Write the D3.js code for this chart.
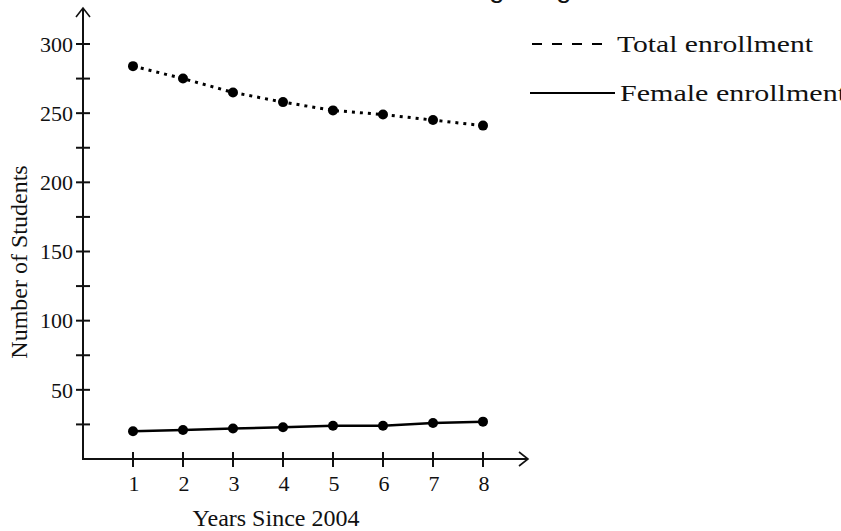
<!DOCTYPE html>
<html><head><meta charset="utf-8">
<script src="https://cdn.jsdelivr.net/npm/d3@7"></script>
<style>body{margin:0;background:#fff}svg{display:block}text{font-family:"Liberation Serif","Times New Roman",serif;fill:#111}</style>
</head><body>
<svg id="c" width="841" height="531"></svg>
<script>
const years = [1,2,3,4,5,6,7,8];
const totalEnrollment = [284,275,265,258,252,249,245,241];
const femaleEnrollment = [20,21,22,23,24,24,26,27];
const yTickLabels = [50,100,150,200,250,300];
const xTickLabels = [1,2,3,4,5,6,7,8];
const seriesNames = ["Total enrollment","Female enrollment"];
const titleText = "Nursing Program Enrollment";
const xTitle = "Years Since 2004";
const yTitle = "Number of Students";

const svg = d3.select("#c");
const x = d3.scaleLinear().domain([0,8.9]).range([83,528]);
const y = d3.scaleLinear().domain([0,300]).range([459,44]);
const ax = "#111";

// title (cut off at the top, as in the reference)
const tf = "'Liberation Sans',Arial,sans-serif";
const t = svg.append("text").attr("y",-3).style("font-size","28px").style("font-family",tf).text(titleText);
const tmp = svg.append("text").style("font-size","28px").style("font-family",tf).text("Nursin");
const pre = tmp.node().getComputedTextLength(); tmp.remove();
t.attr("x", 489 - pre);

// y axis
svg.append("line").attr("x1",x(0)).attr("x2",x(0)).attr("y1",y(0)+1).attr("y2",9).attr("stroke",ax).attr("stroke-width",2);
svg.append("path").attr("d",`M${x(0)-7},${17} L${x(0)},${8} L${x(0)+7},${17}`).attr("fill","none").attr("stroke",ax).attr("stroke-width",1.6);
// x axis
svg.append("line").attr("x1",x(0)-1).attr("x2",527).attr("y1",y(0)).attr("y2",y(0)).attr("stroke",ax).attr("stroke-width",2);
svg.append("path").attr("d",`M${519},${y(0)-7} L${528},${y(0)} L${519},${y(0)+7}`).attr("fill","none").attr("stroke",ax).attr("stroke-width",1.6);

// y ticks (every 25)
const yt = d3.range(25,301,25);
svg.selectAll(".yt").data(yt).enter().append("line")
  .attr("x1",x(0)-7).attr("x2",x(0)+7).attr("y1",d=>y(d)).attr("y2",d=>y(d)).attr("stroke",ax).attr("stroke-width",2);
svg.selectAll(".yl").data(yTickLabels).enter().append("text")
  .attr("x",73).attr("y",d=>y(d)).attr("dy","0.35em").attr("text-anchor","end").style("font-size","22px").text(d=>d);
// x ticks
svg.selectAll(".xt").data(xTickLabels).enter().append("line")
  .attr("x1",d=>x(d)).attr("x2",d=>x(d)).attr("y1",y(0)-7).attr("y2",y(0)+8).attr("stroke",ax).attr("stroke-width",2);
svg.selectAll(".xl").data(xTickLabels).enter().append("text")
  .attr("x",d=>x(d)+1).attr("y",491).attr("text-anchor","middle").style("font-size","22px").text(d=>d);

// axis titles
svg.append("text").attr("x",276).attr("y",526).attr("text-anchor","middle").style("font-size","24px").text(xTitle);
svg.append("text").attr("transform","translate(27,262) rotate(-90)").attr("text-anchor","middle").style("font-size","24px").text(yTitle);

// lines
const line = d3.line().x(d=>x(d[0])).y(d=>y(d[1]));
const totData = years.map((d,i)=>[d,totalEnrollment[i]]);
const femData = years.map((d,i)=>[d,femaleEnrollment[i]]);
svg.append("path").datum(totData).attr("d",line).attr("fill","none").attr("stroke","#000").attr("stroke-width",3).attr("stroke-dasharray","3,5");
svg.append("path").datum(femData).attr("d",line).attr("fill","none").attr("stroke","#000").attr("stroke-width",2.5);
svg.selectAll(".pt").data(totData).enter().append("circle").attr("cx",d=>x(d[0])).attr("cy",d=>y(d[1])).attr("r",5).attr("fill","#000");
svg.selectAll(".pf").data(femData).enter().append("circle").attr("cx",d=>x(d[0])).attr("cy",d=>y(d[1])).attr("r",5).attr("fill","#000");

// legend
svg.append("line").attr("x1",532).attr("x2",603).attr("y1",44).attr("y2",44).attr("stroke","#000").attr("stroke-width",2).attr("stroke-dasharray","10,10");
svg.append("text").attr("x",617).attr("y",52).style("font-size","24px").attr("textLength",196).attr("lengthAdjust","spacingAndGlyphs").text(seriesNames[0]);
svg.append("line").attr("x1",530).attr("x2",615).attr("y1",93).attr("y2",93).attr("stroke","#000").attr("stroke-width",2);
svg.append("text").attr("x",620).attr("y",101).style("font-size","24px").attr("textLength",226).attr("lengthAdjust","spacingAndGlyphs").text(seriesNames[1]);
</script>
</body></html>
